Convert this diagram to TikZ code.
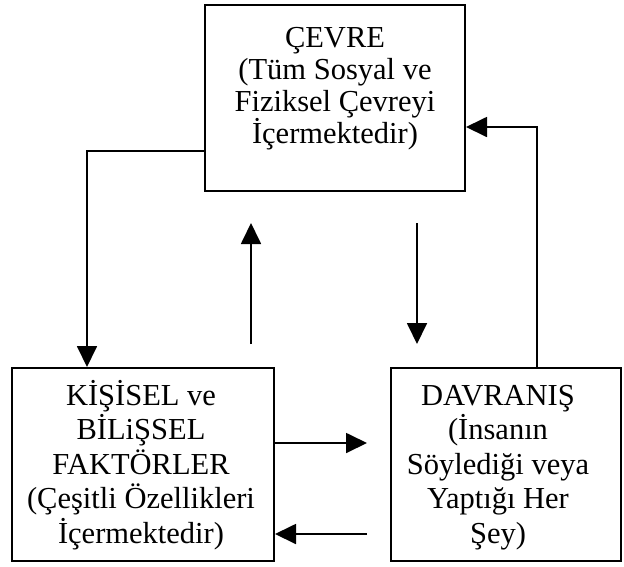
\documentclass[tikz,border=0pt]{standalone}
\usepackage{fontspec}
\setmainfont{Liberation Serif}
\usetikzlibrary{arrows.meta}
\tikzset{
  box/.style={draw, line width=2pt, inner sep=0pt},
  txt/.style={align=center, inner sep=0pt, font=\fontsize{30.5}{34.5}\selectfont},
  ttxt/.style={align=center, inner sep=0pt, font=\fontsize{30.5}{32}\selectfont},
  arr/.style={line width=1.8pt, -{Triangle[length=21pt,width=20pt]}},
}
\begin{document}
\begin{tikzpicture}[x=1pt,y=-1pt]
\useasboundingbox (0,0) rectangle (624,566);
% boxes
\node[box, minimum width=260pt, minimum height=186pt] (cevre) at (335,98) {};
\node[box, minimum width=262pt, minimum height=193pt] (kisisel) at (143,464.5) {};
\node[box, minimum width=230pt, minimum height=193pt] (davranis) at (506,464.5) {};
% texts (base anchor = baseline of the last line)
\node[ttxt, anchor=base] (cevreT) at (335,143) {ÇEVRE\\(Tüm Sosyal ve\\Fiziksel Çevreyi\\İçermektedir)};
\node[txt, anchor=base] (kisiselT) at (141,543) {KİŞİSEL ve\\BİLiŞSEL\\FAKTÖRLER\\(Çeşitli Özellikleri\\İçermektedir)};
\node[txt, anchor=base] (davranisT) at (498,543) {DAVRANIŞ\\(İnsanın\\Söylediği veya\\Yaptığı Her\\Şey)};
% connector coordinates
\coordinate (lc) at (87,151);
\coordinate (rc) at (537,127);
\coordinate (upS) at (251,344);
\coordinate (upE) at (251,223);
\coordinate (dnS) at (417,223);
\coordinate (dnE) at (417,344);
\coordinate (rE) at (367,443);
\coordinate (lS) at (367,534);
% connectors
\draw[arr] (cevre.west |- lc) -- (lc) -- (lc |- kisisel.north);
\draw[arr] (rc |- davranis.north) -- (rc) -- (cevre.east |- rc);
\draw[arr] (upS) -- (upE);
\draw[arr] (dnS) -- (dnE);
\draw[arr] (kisisel.east |- rE) -- (rE);
\draw[arr] (lS) -- (kisisel.east |- lS);
\end{tikzpicture}
\end{document}
